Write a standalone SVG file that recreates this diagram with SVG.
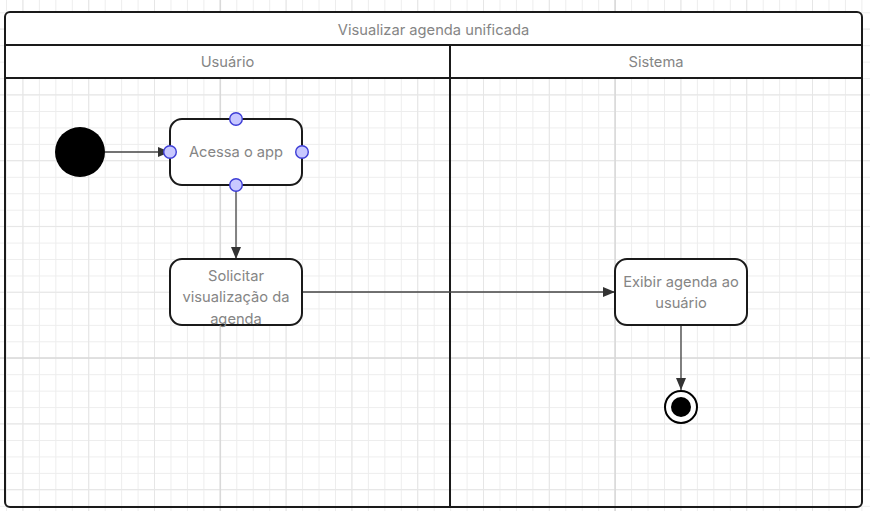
<svg xmlns="http://www.w3.org/2000/svg" width="870" height="511" viewBox="0 0 870 511">
<style>
.t{font-family:Inter,"Liberation Sans",sans-serif;font-size:14.7px;fill:#858585;text-anchor:middle}
.box{fill:#fff;stroke:#1a1a1a;stroke-width:2}
.edge{fill:none;stroke:#444;stroke-width:1.3}
.port{fill:#c8c8ff;stroke:#3d3dd6;stroke-width:1.4}
.frame{fill:none;stroke:#1a1a1a;stroke-width:2}
</style>
<defs>
<pattern id="minor" x="6" y="12.3" width="16.45" height="16.45" patternUnits="userSpaceOnUse">
<path d="M0.5 0V16.45M0 0.5H16.45" stroke="#ededed" stroke-width="1" fill="none"/>
</pattern>
<marker id="arr" viewBox="0 0 12 10" refX="12" refY="5" markerWidth="12" markerHeight="10" markerUnits="userSpaceOnUse" orient="auto">
<path d="M0 0 L12 5 L0 10 z" fill="#333"/>
</marker>
</defs>
<rect width="870" height="511" fill="#fff"/>
<g id="grid">
<rect width="870" height="511" fill="url(#minor)"/>
<path d="M22.9 0V511M88.7 0V511M154.5 0V511M286.1 0V511M351.9 0V511M417.7 0V511M483.5 0V511M549.3 0V511M680.9 0V511M746.7 0V511M812.5 0V511M0 29H870M0 94.8H870M0 160.6H870M0 226.4H870M0 292.2H870M0 423.8H870M0 489.6H870" stroke="#e6e6e6" stroke-width="1" fill="none"/>
<path d="M220.3 0V511M615.1 0V511M0 358H870" stroke="#d9d9d9" stroke-width="1.6" fill="none"/>
</g>
<g id="pool">
<path d="M5 78V17Q5 12 10 12H857Q862 12 862 17V78Z" fill="#fff"/>
<rect class="frame" x="5" y="12" width="857" height="495" rx="5"/>
<path d="M5 45H862M5 78H862M450 45V507" stroke="#1a1a1a" stroke-width="2" fill="none"/>
<text class="t" x="433.5" y="35">Visualizar agenda unificada</text>
<text class="t" x="227.5" y="67">Usuário</text>
<text class="t" x="656" y="67">Sistema</text>
</g>
<g id="connectors">
<path class="edge" d="M105 152H170" marker-end="url(#arr)"/>
<path class="edge" d="M236 185V259" marker-end="url(#arr)"/>
<path class="edge" d="M302 292H615" marker-end="url(#arr)"/>
<path class="edge" d="M681 325V390" marker-end="url(#arr)"/>
</g>
<g id="start">
<circle cx="80" cy="152" r="25" fill="#000"/>
</g>
<g id="acessa">
<rect class="box" x="170" y="119" width="132" height="66" rx="12"/>
<text class="t" x="236" y="157">Acessa o app</text>
<circle class="port" cx="236" cy="119" r="6.3"/>
<circle class="port" cx="170" cy="152" r="6.3"/>
<circle class="port" cx="302" cy="152" r="6.3"/>
<circle class="port" cx="236" cy="185" r="6.3"/>
</g>
<g id="solicitar">
<rect class="box" x="170" y="259" width="132" height="66" rx="12"/>
<text class="t" x="236" y="281">Solicitar</text>
<text class="t" x="236" y="302">visualização da</text>
<text class="t" x="236" y="324">agenda</text>
</g>
<g id="exibir">
<rect class="box" x="615" y="259" width="132" height="66" rx="12"/>
<text class="t" x="681" y="287">Exibir agenda ao</text>
<text class="t" x="681" y="308">usuário</text>
</g>
<g id="end">
<circle cx="681" cy="407" r="16" fill="#fff" stroke="#000" stroke-width="2"/>
<circle cx="681" cy="407" r="10" fill="#000"/>
</g>
</svg>
